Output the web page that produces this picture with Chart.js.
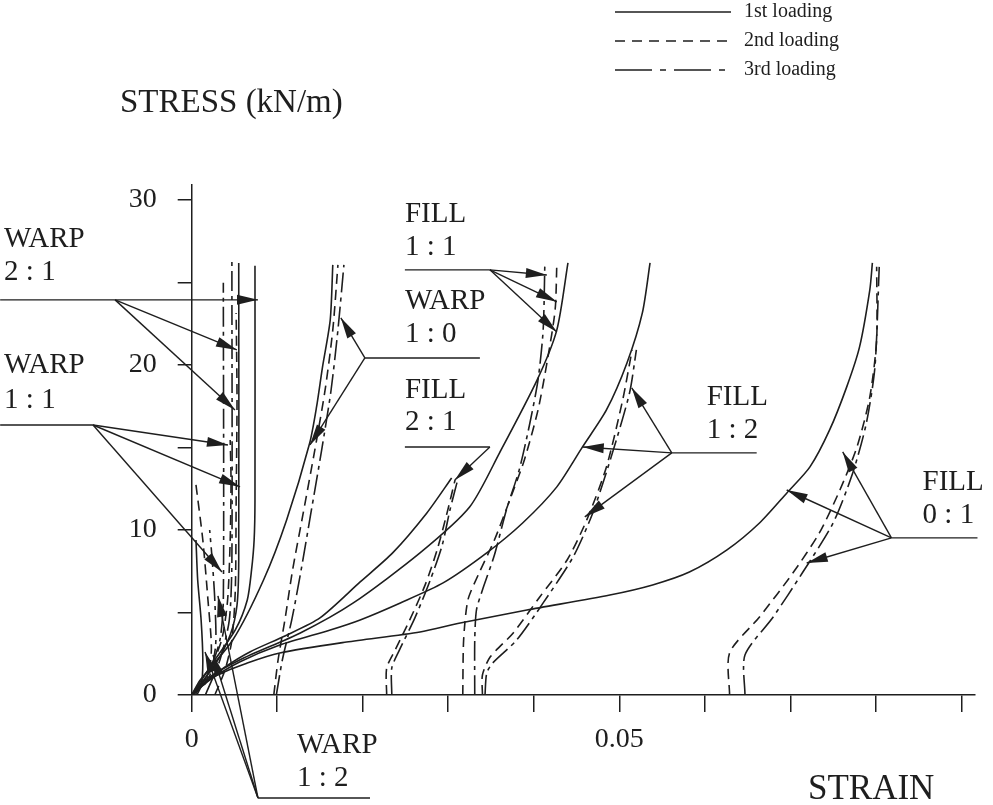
<!DOCTYPE html>
<html>
<head>
<meta charset="utf-8">
<script src="https://cdn.jsdelivr.net/npm/chart.js@4.4.0/dist/chart.umd.min.js"></script>
<style>
  html, body { margin: 0; padding: 0; background: #fff; }
  #wrap { width: 993px; height: 805px; position: relative; }
</style>
</head>
<body>
<div id="wrap"><canvas id="chart"></canvas></div>
<script>
// [strain, stress kN/m], one array per curve
// WARP 2:1
const warp21_1 = [[0,0],[0.0027,2.12],[0.0051,3.94],[0.0065,5.76],[0.0070,7.58],[0.0073,9.39],[0.0074,11.82],[0.0074,26.0]];
const warp21_2 = [[0.0027,0],[0.0039,1.52],[0.0047,3.33],[0.0051,6.36],[0.0052,11.82],[0.0053,17.88],[0.0052,23.15]];
const warp21_3 = [[0.0016,0],[0.0033,2.12],[0.0044,4.55],[0.0047,8.18],[0.0047,26.42]];
// WARP 1:1
const warp11_1 = [[0,0],[0.0027,1.82],[0.0045,3.64],[0.0053,5.45],[0.0055,8.18],[0.0055,26.18]];
const warp11_2 = [[0.0006,0],[0.0021,1.52],[0.0035,3.33],[0.0042,5.76],[0.0045,9.39],[0.0046,13.03],[0.0045,15.45]];
const warp11_3 = [[0.0004,0],[0.0021,1.52],[0.0033,3.33],[0.0037,5.76],[0.0037,24.97]];
// WARP 1:2
const warp12_1 = [[0,0],[0.0011,0.61],[0.0013,2.12],[0.0011,4.55],[0.0007,6.97],[0.0005,9.39]];
const warp12_2 = [[0,0],[0.0017,0.79],[0.0023,2.73],[0.0019,5.76],[0.0013,9.39],[0.0005,12.73]];
const warp12_3 = [[0,0],[0.0020,1.03],[0.0028,3.03],[0.0027,5.76],[0.0024,8.18],[0.0021,10.0]];
// WARP 1:0
const warp10_1 = [[0,0],[0.0010,0.91],[0.0048,3.33],[0.0084,6.97],[0.0111,10.61],[0.0138,15.27],[0.0146,17.45],[0.0153,19.88],[0.0162,22.73],[0.0165,26.06]];
const warp10_2 = [[0.0096,0],[0.0101,2.12],[0.0109,4.55],[0.0118,7.58],[0.0130,10.91],[0.0144,14.85],[0.0156,18.48],[0.0165,22.12],[0.0171,26.06]];
const warp10_3 = [[0.0099,0],[0.0106,2.12],[0.0117,4.55],[0.0128,7.58],[0.0139,10.91],[0.0152,14.85],[0.0163,18.48],[0.0171,22.12],[0.0178,26.06]];
// FILL 2:1
const fill21_1 = [[0,0],[0.0016,0.79],[0.0039,1.70],[0.0068,2.61],[0.0109,3.58],[0.0150,4.67],[0.0197,6.85],[0.0235,8.61],[0.0275,11.03],[0.0304,13.15]];
const fill21_2 = [[0.0228,0],[0.0228,1.64],[0.0238,2.73],[0.0255,4.55],[0.0273,6.67],[0.0287,8.79],[0.0298,10.91],[0.0308,13.03]];
const fill21_3 = [[0.0234,0],[0.0234,1.64],[0.0243,2.73],[0.0261,4.67],[0.0279,6.97],[0.0293,9.09],[0.0302,11.21],[0.0311,13.03]];
// FILL 1:1
const fill11_1 = [[0,0],[0.0016,0.91],[0.0056,2.12],[0.0127,3.76],[0.0189,5.58],[0.0267,8.61],[0.0325,11.39],[0.0360,14.67],[0.0404,19.09],[0.0427,22.12],[0.0440,26.18]];
const fill11_2 = [[0.0317,0],[0.0318,3.33],[0.0323,5.76],[0.0335,7.27],[0.0354,9.39],[0.0372,11.82],[0.0389,14.24],[0.0405,17.27],[0.0416,20.30],[0.0425,23.33],[0.0427,26.18]];
const fill11_3 = [[0.0331,0],[0.0331,3.33],[0.0333,5.15],[0.0340,6.36],[0.0354,8.48],[0.0368,11.21],[0.0383,13.64],[0.0395,16.36],[0.0405,19.09],[0.0411,22.12],[0.0413,26.18]];
// FILL 1:2
const fill12_1 = [[0,0],[0.0021,0.91],[0.0056,2.0],[0.0103,3.03],[0.0162,3.94],[0.0197,4.55],[0.0244,5.58],[0.0294,6.79],[0.0345,8.61],[0.0387,10.42],[0.0427,12.61],[0.0457,15.03],[0.0485,17.27],[0.0509,20.12],[0.0527,23.15],[0.0536,26.18]];
const fill12_2 = [[0.0340,0],[0.0340,1.21],[0.0349,2.30],[0.0376,3.76],[0.0407,5.94],[0.0439,8.18],[0.0462,10.61],[0.0485,13.82],[0.0504,17.88],[0.0515,20.91]];
const fill12_3 = [[0.0343,0],[0.0345,1.33],[0.0352,1.94],[0.0380,3.33],[0.0411,5.58],[0.0446,8.36],[0.0469,11.03],[0.0492,14.67],[0.0512,18.30],[0.0520,20.91]];
// FILL 0:1
const fill01_1 = [[0,0],[0.0025,1.09],[0.0065,1.94],[0.0103,2.55],[0.0181,3.21],[0.0267,3.82],[0.0314,4.36],[0.0392,5.15],[0.0489,6.06],[0.0539,6.67],[0.0582,7.45],[0.0626,8.79],[0.0664,10.42],[0.0696,12.24],[0.0723,13.82],[0.0746,16.06],[0.0766,18.67],[0.0781,21.09],[0.0793,24.55],[0.0796,26.18]];
const fill01_2 = [[0.0629,0],[0.0629,2.55],[0.0664,4.73],[0.0703,7.39],[0.0734,9.82],[0.0758,12.42],[0.0778,15.03],[0.0793,18.06],[0.0801,21.52],[0.0801,25.94]];
const fill01_3 = [[0.0647,0],[0.0647,2.42],[0.0680,4.73],[0.0714,7.39],[0.0750,10.42],[0.0773,13.45],[0.0789,16.48],[0.0799,19.88],[0.0804,25.94]];

const curves = [
  [warp21_1, 1], [warp21_2, 2], [warp21_3, 3],
  [warp11_1, 1], [warp11_2, 2], [warp11_3, 3],
  [warp12_1, 1], [warp12_2, 2], [warp12_3, 3],
  [warp10_1, 1], [warp10_2, 2], [warp10_3, 3],
  [fill21_1, 1], [fill21_2, 2], [fill21_3, 3],
  [fill11_1, 1], [fill11_2, 2], [fill11_3, 3],
  [fill12_1, 1], [fill12_2, 2], [fill12_3, 3],
  [fill01_1, 1], [fill01_2, 2], [fill01_3, 3]
];

const loadingNames = ['1st loading', '2nd loading', '3rd loading'];
const yTickLabels = [0, 10, 20, 30];
const xTickLabels = [0, 0.05];

// callouts in data units: text lines, bar, and arrows from the hub
const callouts = [
  { text: ['WARP', '2 : 1'], at: [-0.02194, 27.58], step: -2.0, bar: [-0.0224, -0.00896, 23.94],
    hub: [-0.00896, 23.94], tips: [[0.00775, 23.94], [0.00529, 20.91], [0.00506, 17.27]] },
  { text: ['WARP', '1 : 1'], at: [-0.02194, 20.0], step: -2.12, bar: [-0.0224, -0.01154, 16.36],
    hub: [-0.01154, 16.36], tips: [[0.00424, 15.15], [0.00565, 12.61], [0.00354, 7.45]] },
  { text: ['WARP', '1 : 2'], at: [0.01231, -3.03], step: -2.0, bar: [0.00775, 0.02085, -6.24],
    hub: [0.00775, -6.24], tips: [[0.00156, 2.61], [0.00249, 2.42], [0.00307, 6.0]] },
  { text: ['WARP', '1 : 0'], at: [0.02493, 23.82], step: -2.0, bar: [0.02025, 0.0337, 20.42],
    hub: [0.02025, 20.42], tips: [[0.01744, 22.85], [0.01383, 15.15]] },
  { text: ['FILL', '1 : 1'], at: [0.02493, 29.09], step: -1.94, bar: [0.02493, 0.03487, 25.76],
    hub: [0.03487, 25.76], tips: [[0.04153, 25.45], [0.0427, 23.82], [0.0427, 22.0]] },
  { text: ['FILL', '2 : 1'], at: [0.02493, 18.48], step: -1.94, bar: [0.02493, 0.03487, 15.03],
    hub: [0.03487, 15.03], tips: [[0.03077, 13.03]] },
  { text: ['FILL', '1 : 2'], at: [0.06023, 18.06], step: -2.0, bar: [0.05614, 0.06607, 14.67],
    hub: [0.05614, 14.67], tips: [[0.05146, 18.61], [0.04573, 15.03], [0.04597, 10.79]] },
  { text: ['FILL', '0 : 1'], at: [0.08547, 12.91], step: -2.0, bar: [0.08183, 0.09189, 9.52],
    hub: [0.08183, 9.52], tips: [[0.06958, 12.42], [0.07613, 14.73], [0.07192, 8.0]] }
];

const INK = '#1e1e1e';
const SERIF = "'Liberation Serif', 'Times New Roman', serif";
const dashes = { 1: [], 2: [10, 6], 3: [20, 5, 4, 5] };

const datasets = curves.map(([pts, load]) => ({
  label: loadingNames[load - 1],
  data: pts.map(p => ({ x: p[0], y: p[1] })),
  showLine: true,
  borderColor: INK,
  borderWidth: 1.6,
  borderDash: dashes[load],
  pointRadius: 0,
  tension: 0.25,
  fill: false
}));

function arrow(ctx, a, b) {
  ctx.beginPath(); ctx.moveTo(a[0], a[1]); ctx.lineTo(b[0], b[1]); ctx.stroke();
  const ang = Math.atan2(b[1] - a[1], b[0] - a[0]);
  const L = 21, W = 5, c = Math.cos(ang), s = Math.sin(ang);
  ctx.beginPath();
  ctx.moveTo(b[0], b[1]);
  ctx.lineTo(b[0] - L * c + W * s, b[1] - L * s - W * c);
  ctx.lineTo(b[0] - L * c - W * s, b[1] - L * s + W * c);
  ctx.closePath(); ctx.fill();
}

const decorations = {
  id: 'decorations',
  afterDatasetsDraw(chart) {
    const { ctx, scales: { x, y } } = chart;
    const P = p => [x.getPixelForValue(p[0]), y.getPixelForValue(p[1])];
    ctx.save();
    ctx.strokeStyle = INK; ctx.fillStyle = INK; ctx.lineWidth = 1.4;
    ctx.textBaseline = 'middle'; ctx.textAlign = 'left';

    callouts.forEach(c => {
      ctx.font = `29px ${SERIF}`;
      c.text.forEach((t, i) => {
        const [tx, ty] = P([c.at[0], c.at[1] + i * c.step]);
        ctx.fillText(t, tx, ty);
      });
      const a = P([c.bar[0], c.bar[2]]), b = P([c.bar[1], c.bar[2]]);
      ctx.beginPath(); ctx.moveTo(a[0], a[1]); ctx.lineTo(b[0], b[1]); ctx.stroke();
      c.tips.forEach(t => arrow(ctx, P(c.hub), P(t)));
    });

    // axis titles
    ctx.font = `33px ${SERIF}`;
    ctx.fillText('STRESS (kN/m)', 120, 103);
    ctx.font = `35px ${SERIF}`;
    ctx.fillText('STRAIN', 808, 790);

    // legend
    ctx.font = `20px ${SERIF}`;
    const legendDash = [[], [10, 7], [37, 8, 6, 8]];
    loadingNames.forEach((name, i) => {
      const ly = 12 + i * 29;
      ctx.setLineDash(legendDash[i]);
      ctx.lineWidth = 1.5;
      ctx.beginPath(); ctx.moveTo(615, ly); ctx.lineTo(731, ly); ctx.stroke();
      ctx.setLineDash([]);
      ctx.fillText(name, 744, ly);
    });
    ctx.restore();
  }
};

new Chart(document.getElementById('chart'), {
  type: 'scatter',
  data: { datasets },
  options: {
    responsive: true,
    maintainAspectRatio: false,
    animation: false,
    layout: { padding: { top: 185, right: 18, left: 0, bottom: 0 } },
    plugins: { legend: { display: false }, tooltip: { enabled: false } },
    scales: {
      x: {
        type: 'linear', min: 0, max: 0.0916,
        afterFit: s => { s.height = 110; },
        border: { display: true, color: INK, width: 1.5 },
        grid: { drawOnChartArea: false, drawTicks: true, tickLength: 17, color: INK, lineWidth: 1.5 },
        ticks: {
          stepSize: 0.01, includeBounds: false, autoSkip: false, maxRotation: 0, padding: 11,
          color: INK, font: { family: SERIF, size: 28 },
          callback: v => {
            const hit = xTickLabels.find(t => Math.abs(t - v) < 1e-9);
            return hit === undefined ? '' : String(hit);
          }
        }
      },
      y: {
        type: 'linear', min: 0, max: 30.9,
        afterFit: s => { s.width = 191.7; },
        border: { display: true, color: INK, width: 1.5 },
        grid: { drawOnChartArea: false, drawTicks: true, tickLength: 14, color: INK, lineWidth: 1.5 },
        ticks: {
          stepSize: 5, includeBounds: false, autoSkip: false, padding: 21,
          color: INK, font: { family: SERIF, size: 28 },
          callback: v => (yTickLabels.includes(v) ? String(v) : '')
        }
      }
    }
  },
  plugins: [decorations]
});
</script>
</body>
</html>
